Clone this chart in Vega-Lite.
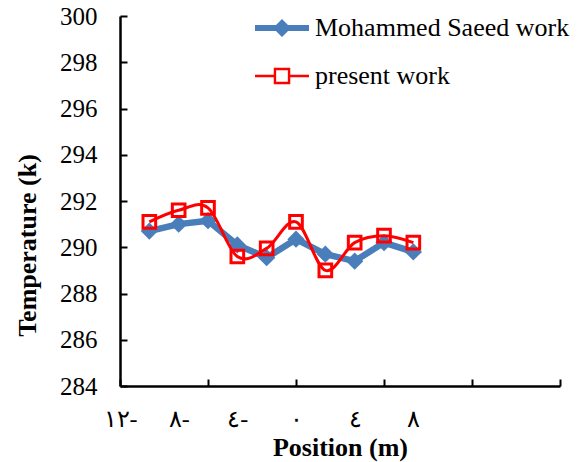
{
  "$schema": "https://vega.github.io/schema/vega-lite/v6.json",
  "autosize": {"type": "none"},
  "padding": {"left": 120, "top": 16, "right": 27, "bottom": 76},
  "width": 440,
  "height": 370,
  "background": "white",
  "config": {"view": {"stroke": null}},
  "data": {"values": [
    {"x": -10, "temp": 290.7, "series": "Mohammed Saeed work"},
    {"x": -8, "temp": 291.0, "series": "Mohammed Saeed work"},
    {"x": -6, "temp": 291.15, "series": "Mohammed Saeed work"},
    {"x": -4, "temp": 290.1, "series": "Mohammed Saeed work"},
    {"x": -2, "temp": 289.55, "series": "Mohammed Saeed work"},
    {"x": 0, "temp": 290.35, "series": "Mohammed Saeed work"},
    {"x": 2, "temp": 289.7, "series": "Mohammed Saeed work"},
    {"x": 4, "temp": 289.4, "series": "Mohammed Saeed work"},
    {"x": 6, "temp": 290.2, "series": "Mohammed Saeed work"},
    {"x": 8, "temp": 289.8, "series": "Mohammed Saeed work"},
    {"x": -10, "temp": 291.1, "series": "present work"},
    {"x": -8, "temp": 291.6, "series": "present work"},
    {"x": -6, "temp": 291.7, "series": "present work"},
    {"x": -4, "temp": 289.6, "series": "present work"},
    {"x": -2, "temp": 289.95, "series": "present work"},
    {"x": 0, "temp": 291.1, "series": "present work"},
    {"x": 2, "temp": 289.0, "series": "present work"},
    {"x": 4, "temp": 290.2, "series": "present work"},
    {"x": 6, "temp": 290.5, "series": "present work"},
    {"x": 8, "temp": 290.2, "series": "present work"}
  ]},
  "encoding": {
    "x": {
      "field": "x", "type": "quantitative",
      "scale": {"domain": [-12, 18], "nice": false, "zero": false},
      "axis": {
        "title": "Position (m)",
        "titleFont": "Liberation Serif", "titleFontSize": 26, "titleFontWeight": "bold", "titleColor": "black",
        "titleBaseline": "middle", "titleY": 61, "titleX": 220,
        "values": [-12, -8, -6, -4, 0, 4, 6, 8, 12, 18],
        "labelExpr": "datum.value == -12 ? '١٢-' : datum.value == -8 ? '٨-' : datum.value == -4 ? '٤-' : datum.value == 0 ? '٠' : datum.value == 4 ? '٤' : datum.value == 8 ? '٨' : ''",
        "labelFont": "Liberation Serif", "labelFontSize": 24, "labelColor": "black",
        "labelBaseline": "middle", "labelPadding": 40, "labelFlush": false, "labelOverlap": false,
        "tickSize": -7, "tickWidth": 2, "tickColor": "black",
        "tickOpacity": {"condition": {"test": "indexof([-12, -6, 0, 6, 12, 18], datum.value) >= 0", "value": 1}, "value": 0},
        "domainColor": "black", "domainWidth": 2.5, "grid": false
      }
    },
    "y": {
      "field": "temp", "type": "quantitative",
      "scale": {"domain": [284, 300], "nice": false, "zero": false},
      "axis": {
        "title": "Temperature (k)",
        "titleFont": "Liberation Serif", "titleFontSize": 26, "titleFontWeight": "bold", "titleColor": "black",
        "titleBaseline": "middle", "titleX": -93, "titleY": 229,
        "values": [284, 286, 288, 290, 292, 294, 296, 298, 300],
        "labelFont": "Liberation Serif", "labelFontSize": 25, "labelColor": "black",
        "labelPadding": 30, "labelFlush": false,
        "tickSize": -7, "tickWidth": 2, "tickColor": "black",
        "domainColor": "black", "domainWidth": 2.5, "grid": false
      }
    },
    "color": {
      "field": "series", "type": "nominal",
      "scale": {"domain": ["Mohammed Saeed work", "present work"], "range": ["#4A7EBB", "#FF0000"]},
      "legend": {
        "title": null, "orient": "none", "legendX": 147, "legendY": -3, "padding": 0,
        "labelFont": "Liberation Serif", "labelFontSize": 26, "labelColor": "black", "labelLimit": 400,
        "labelOffset": 18, "rowPadding": 20, "symbolSize": 900,
        "encode": {
          "symbols": {
            "update": {
              "shape": {"signal": "datum.value == 'present work' ? 'M-1.8,-0.08L-0.47,-0.08L-0.47,0.08L-1.8,0.08ZM0.47,-0.08L1.8,-0.08L1.8,0.08L0.47,0.08ZM-0.55,-0.55L0.55,-0.55L0.55,0.55L-0.55,0.55ZM-0.39,-0.39L-0.39,0.39L0.39,0.39L0.39,-0.39Z' : 'M-1.8,-0.2L1.8,-0.2L1.8,0.2L-1.8,0.2ZM0,-0.6L0.6,0L0,0.6L-0.6,0Z'"},
              "fill": {"signal": "datum.value == 'present work' ? '#FF0000' : '#4A7EBB'"},
              "stroke": {"value": "transparent"},
              "strokeWidth": {"value": 0},
              "size": {"value": 900},
              "opacity": {"value": 1},
              "fillOpacity": {"value": 1}
            }
          }
        }
      }
    }
  },
  "layer": [
    {
      "transform": [{"filter": "datum.series == 'Mohammed Saeed work'"}],
      "mark": {"type": "line", "strokeWidth": 6.5, "strokeJoin": "round", "strokeCap": "round"}
    },
    {
      "transform": [{"filter": "datum.series == 'Mohammed Saeed work'"}],
      "mark": {"type": "point", "shape": "diamond", "filled": true, "size": 300, "opacity": 1}
    },
    {
      "transform": [{"filter": "datum.series == 'present work'"}],
      "mark": {"type": "line", "strokeWidth": 3, "interpolate": "cardinal"}
    },
    {
      "transform": [{"filter": "datum.series == 'present work'"}],
      "mark": {"type": "point", "shape": "square", "filled": false, "size": 160, "strokeWidth": 3, "opacity": 1}
    }
  ]
}
